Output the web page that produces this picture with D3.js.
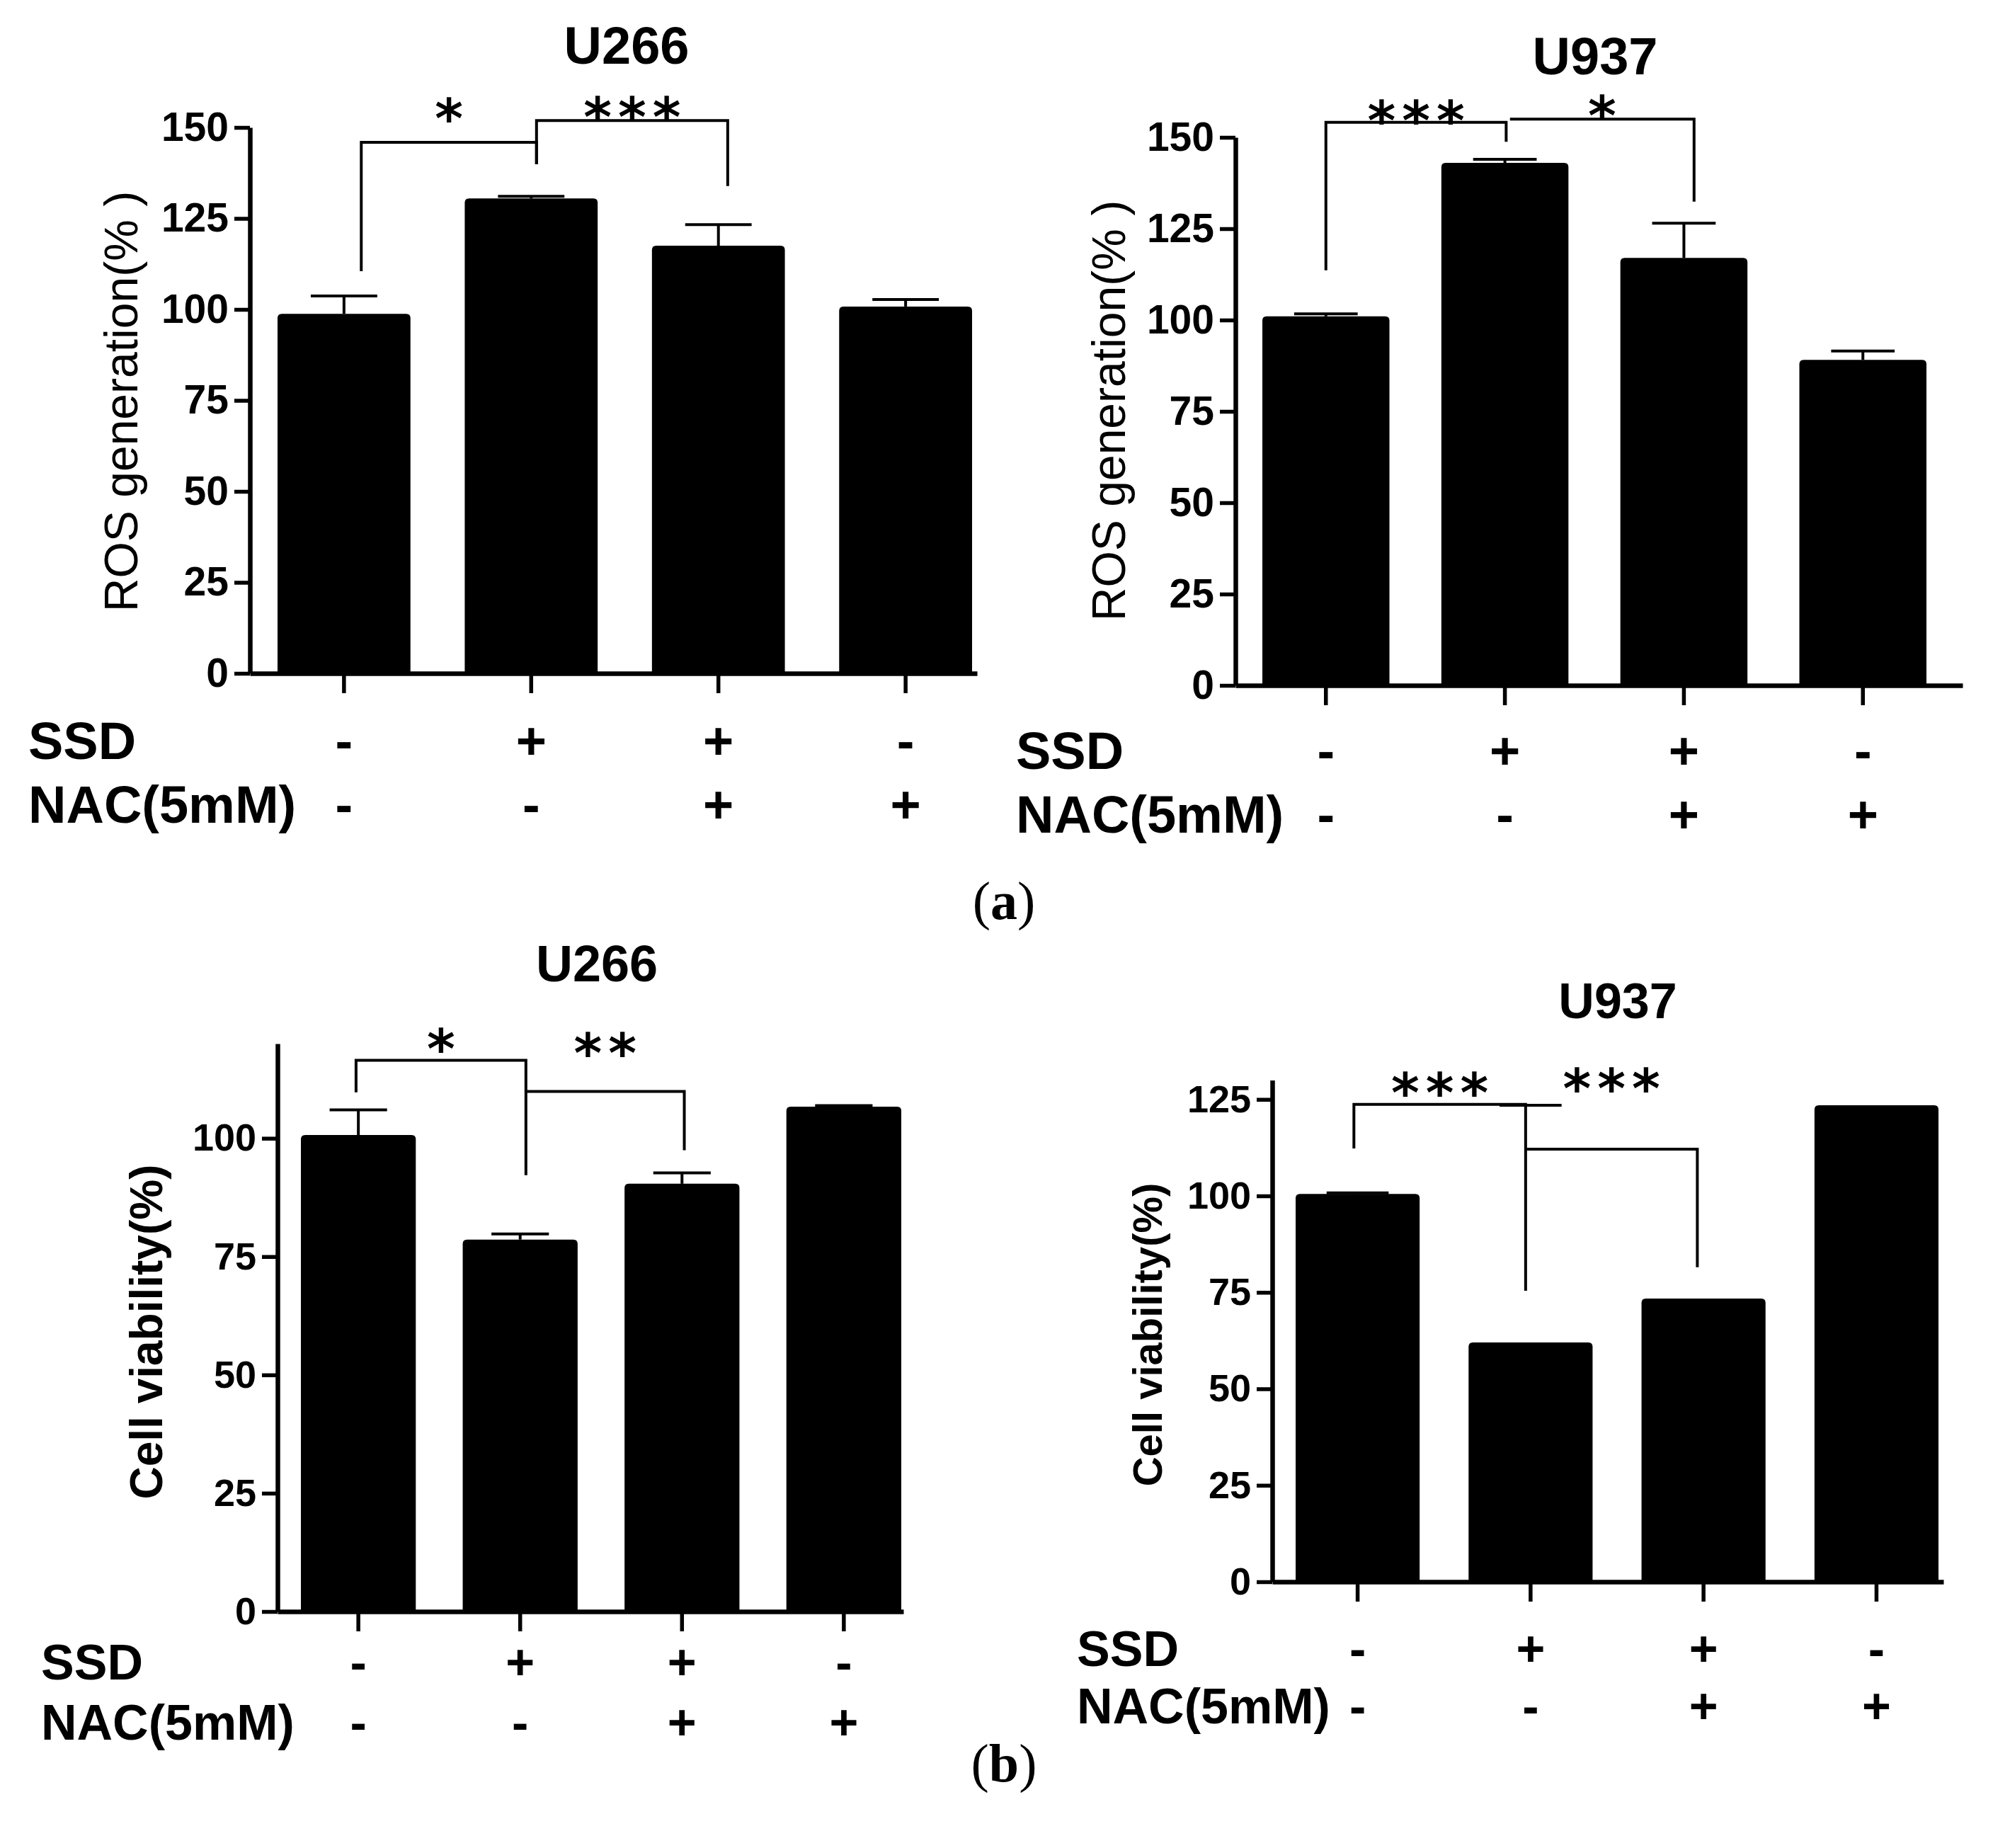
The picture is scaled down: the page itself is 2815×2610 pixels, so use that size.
<!DOCTYPE html>
<html>
<head>
<meta charset="utf-8">
<script src="https://cdn.jsdelivr.net/npm/d3@7"></script>
<style>
  body { margin: 0; background: #fff; }
  svg { display: block; background: #fff; }
  text { font-family: "Liberation Sans", Arial, sans-serif; fill: #000; }
</style>
</head>
<body>
<svg id="fig" width="2815" height="2610"></svg>
<script>
// treatment groups, same order in every panel
var groups = ["ctrl", "ssd", "ssdNac", "nac"];
var ssdSigns = ["-", "+", "+", "-"];
var nacSigns = ["-", "-", "+", "+"];

// (a) ROS generation (%)
var rosU266 = [98.8, 130.5, 117.5, 100.8];
var rosU266Err = [4.9, 0.6, 5.8, 1.9];
var rosU937 = [101, 143, 117, 89.1];
var rosU937Err = [0.7, 1.0, 9.5, 2.4];

// (b) cell viability (%)
var viaU266 = [100.7, 78.6, 90.4, 106.7];
var viaU266Err = [5.3, 1.2, 2.3, 0.2];
var viaU937 = [100.5, 62, 73.4, 123.5];
var viaU937Err = [0.3, 0, 0, 0.9];

var rosTicks = [0, 25, 50, 75, 100, 125, 150];
var viaU266Ticks = [0, 25, 50, 75, 100];
var viaU937Ticks = [0, 25, 50, 75, 100, 125];

// significance brackets: group indexes, levels in data units
var rosU266Sig = [
  {from: 0, to: 1, fromAt: 0.63, toAt: 0.54, top: 145.9, left: 110.5, right: 139.9, text: "*", textY: 156.4},
  {from: 1, to: 2, fromAt: 0.54, toAt: 0.57, top: 151.9, left: 139.9, right: 133.9, text: "***", textY: 156.8}
];
var rosU937Sig = [
  {from: 0, to: 1, fromAt: 0.5, toAt: 0.51, top: 154.1, left: 113.6, right: 148.8, text: "***", textY: 158.5},
  {from: 1, to: 2, fromAt: 0.54, toAt: 0.58, top: 155.0, left: 155.0, right: 132.4, text: "*", textY: 159.9}
];
var viaU266Sig = [
  {from: 0, to: 1, fromAt: 0.48, toAt: 0.55, top: 116.5, left: 109.7, right: 92.2, text: "*", textY: 121.9},
  {from: 1, to: 2, fromAt: 0.55, toAt: 0.52, top: 109.9, left: 109.9, right: 97.5, text: "**", textY: 121.0}
];
var viaU937Sig = [
  {from: 0, to: 1, fromAt: 0.47, toAt: 0.46, top: 123.7, left: 112.3, right: 75.4, text: "***", textY: 130.5},
  {from: 1, to: 2, fromAt: 0.46, toAt: 0.45, top: 112.1, left: 112.1, right: 81.5, text: "***", textY: 131.6}
];

var panels = [
  {title: "U266", values: rosU266, err: rosU266Err, ticks: rosTicks, max: 150, sig: rosU266Sig,
   ylabel: "ROS generation(% )", ylabWeight: "normal", ylabSize: 66, ylabX: 171, ylabY: 567,
   x0: 353, x1: 1380, barL: 392, barR: 1373, pad: 0.29, yBase: 951, yTop: 180,
   titleX: 885, titleY: 90, titleSize: 74, tickFont: 57,
   rowX: 40, row1: 1072, row2: 1162, rowSize: 74},
  {title: "U937", values: rosU937, err: rosU937Err, ticks: rosTicks, max: 150, sig: rosU937Sig,
   ylabel: "ROS generation(% )", ylabWeight: "normal", ylabSize: 66, ylabX: 1566, ylabY: 580,
   x0: 1745, x1: 2772, barL: 1783, barR: 2721, pad: 0.29, yBase: 968, yTop: 194,
   titleX: 2253, titleY: 105, titleSize: 74, tickFont: 57,
   rowX: 1435, row1: 1086, row2: 1176, rowSize: 74},
  {title: "U266", values: viaU266, err: viaU266Err, ticks: viaU266Ticks, max: 120, sig: viaU266Sig,
   ylabel: "Cell viability(%)", ylabWeight: "bold", ylabSize: 64, ylabX: 207, ylabY: 1881,
   x0: 392, x1: 1276, barL: 425, barR: 1273, pad: 0.29, yBase: 2276, yTop: 1474,
   titleX: 843, titleY: 1386, titleSize: 72, tickFont: 54,
   rowX: 58, row1: 2372, row2: 2457, rowSize: 70},
  {title: "U937", values: viaU937, err: viaU937Err, ticks: viaU937Ticks, max: 130, sig: viaU937Sig,
   ylabel: "Cell viability(%)", ylabWeight: "bold", ylabSize: 58, ylabX: 1620, ylabY: 1885,
   x0: 1797, x1: 2745, barL: 1830, barR: 2738, pad: 0.283, yBase: 2234, yTop: 1525.5,
   titleX: 2285, titleY: 1438, titleSize: 70, tickFont: 54,
   rowX: 1521, row1: 2353, row2: 2434, rowSize: 70}
];

var svg = d3.select("#fig");

// bar with slightly rounded top corners
function barPath(x, y, w, h, r) {
  r = Math.min(r, h);
  return "M" + x + "," + (y + h) +
    "V" + (y + r) + "Q" + x + "," + y + " " + (x + r) + "," + y +
    "H" + (x + w - r) + "Q" + (x + w) + "," + y + " " + (x + w) + "," + (y + r) +
    "V" + (y + h) + "Z";
}

function drawPanel(p) {
  var n = groups.length;
  var step = (p.barR - p.barL) / (n - p.pad);
  var total = p.x1 - p.x0;
  var outer = (total / step - (n - p.pad)) / 2;
  var align = (p.barL - p.x0) / (total - (p.barR - p.barL));

  var x = d3.scaleBand()
    .domain(groups)
    .range([p.x0, p.x1])
    .paddingInner(p.pad)
    .paddingOuter(outer)
    .align(align);

  var y = d3.scaleLinear()
    .domain([0, p.max])
    .range([p.yBase, p.yTop]);

  var g = svg.append("g");
  var bw = x.bandwidth();

  // bars
  g.selectAll(".bar")
    .data(p.values)
    .enter().append("path")
    .attr("class", "bar")
    .attr("d", function(d, i) {
      return barPath(x(groups[i]), y(d), bw, p.yBase - y(d), 6);
    })
    .attr("fill", "#000");

  // error bars (upper only)
  var eb = g.selectAll(".err")
    .data(p.values)
    .enter().append("g")
    .attr("class", "err")
    .filter(function(d, i) { return p.err[i] > 0; });

  eb.append("line")
    .attr("x1", function(d, i) { return x(groups[i]) + bw / 2; })
    .attr("x2", function(d, i) { return x(groups[i]) + bw / 2; })
    .attr("y1", function(d) { return y(d); })
    .attr("y2", function(d, i) { return y(d + p.err[i]); })
    .attr("stroke", "#000").attr("stroke-width", 4);

  eb.append("line")
    .attr("x1", function(d, i) { return x(groups[i]) + bw * 0.25; })
    .attr("x2", function(d, i) { return x(groups[i]) + bw * 0.75; })
    .attr("y1", function(d, i) { return y(d + p.err[i]); })
    .attr("y2", function(d, i) { return y(d + p.err[i]); })
    .attr("stroke", "#000").attr("stroke-width", 4);

  // axes
  var yAxis = g.append("g")
    .attr("transform", "translate(" + p.x0 + ",0)")
    .call(d3.axisLeft(y).tickValues(p.ticks).tickSize(22).tickSizeOuter(0).tickPadding(8));

  var xAxis = g.append("g")
    .attr("transform", "translate(0," + p.yBase + ")")
    .call(d3.axisBottom(x).tickSize(28).tickSizeOuter(0).tickFormat(""));

  [yAxis, xAxis].forEach(function(a) {
    a.select(".domain").attr("stroke", "#000").attr("stroke-width", 6.5);
    a.selectAll(".tick line").attr("stroke", "#000").attr("stroke-width", 5.5);
  });
  yAxis.selectAll(".tick text")
    .style("font-family", "'Liberation Sans', Arial, sans-serif")
    .style("font-size", p.tickFont + "px")
    .style("font-weight", "bold")
    .attr("fill", "#000");

  // significance brackets
  p.sig.forEach(function(s) {
    var xa = x(groups[s.from]) + bw * s.fromAt;
    var xb = x(groups[s.to]) + bw * s.toAt;
    g.append("path")
      .attr("d", "M" + xa + "," + y(s.left) + "V" + y(s.top) + "H" + xb + "V" + y(s.right))
      .attr("fill", "none")
      .attr("stroke", "#000")
      .attr("stroke-width", 4);
    g.append("text")
      .attr("x", (xa + xb) / 2)
      .attr("y", y(s.textY) + 0.62 * 76)
      .attr("text-anchor", "middle")
      .style("font-family", "'DejaVu Sans', sans-serif")
      .style("font-size", "76px")
      .style("font-weight", "bold")
      .style("letter-spacing", "9px")
      .attr("dx", 4.5)
      .text(s.text);
  });

  // title
  g.append("text")
    .attr("x", p.titleX)
    .attr("y", p.titleY)
    .attr("text-anchor", "middle")
    .style("font-size", p.titleSize + "px")
    .style("font-weight", "bold")
    .text(p.title);

  // y axis label
  g.append("text")
    .attr("transform", "translate(" + p.ylabX + "," + p.ylabY + ") rotate(-90)")
    .attr("text-anchor", "middle")
    .attr("dominant-baseline", "central")
    .style("font-size", p.ylabSize + "px")
    .style("font-weight", p.ylabWeight)
    .text(p.ylabel);

  // treatment table under the axis
  var rows = [{name: "SSD", signs: ssdSigns, y: p.row1}, {name: "NAC(5mM)", signs: nacSigns, y: p.row2}];
  rows.forEach(function(r) {
    g.append("text")
      .attr("x", p.rowX)
      .attr("y", r.y)
      .style("font-size", p.rowSize + "px")
      .style("font-weight", "bold")
      .text(r.name);
    g.selectAll(null)
      .data(r.signs)
      .enter().append("text")
      .attr("x", function(d, i) { return x(groups[i]) + bw / 2; })
      .attr("y", r.y)
      .attr("text-anchor", "middle")
      .style("font-size", p.rowSize + "px")
      .style("font-weight", "bold")
      .text(function(d) { return d; });
  });
}

panels.forEach(drawPanel);

// sub-figure captions
[["a", 1298], ["b", 2516]].forEach(function(c) {
  var t = svg.append("text")
    .attr("x", 1418)
    .attr("y", c[1])
    .attr("text-anchor", "middle")
    .style("font-family", "'Liberation Serif', 'DejaVu Serif', serif")
    .style("font-size", "76px");
  t.append("tspan").text("(");
  t.append("tspan").style("font-weight", "bold").text(c[0]);
  t.append("tspan").text(")");
});
</script>
</body>
</html>
